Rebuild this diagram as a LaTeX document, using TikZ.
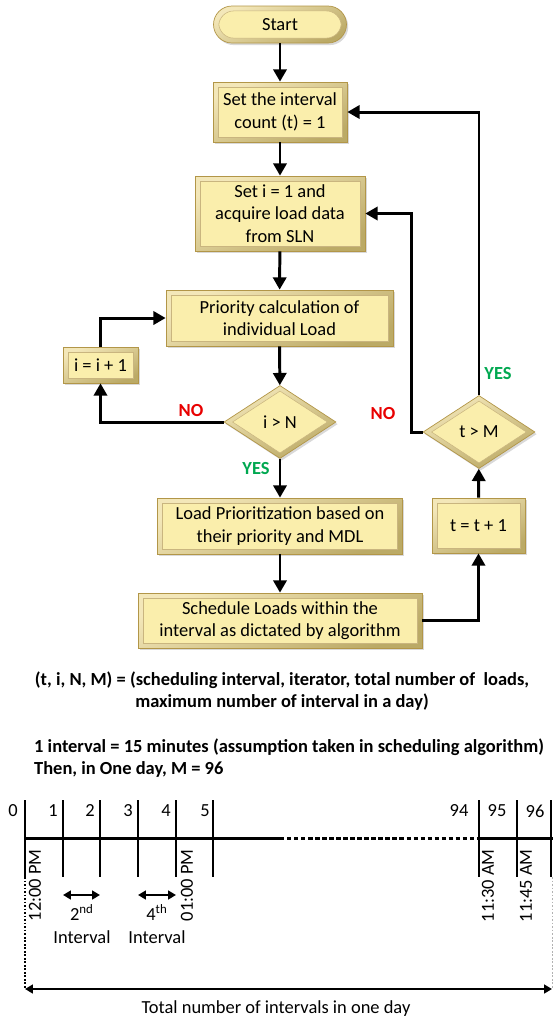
\documentclass[tikz,border=0pt]{standalone}
\usepackage{fontspec}
\setmainfont{Carlito}
\usetikzlibrary{arrows.meta,calc,shapes.geometric,shadows}
\definecolor{boxface}{RGB}{250,238,172}
\definecolor{boxrim}{RGB}{234,212,128}
\definecolor{boxline}{RGB}{178,150,72}
\definecolor{noRed}{RGB}{232,0,0}
\definecolor{yesGreen}{RGB}{0,168,80}
\def\txt{\fontsize{10.5pt}{12.8pt}\selectfont}
\tikzset{
	bevel/.style={top color=boxrim!55!white, bottom color=boxrim!80!black, shading angle=25,
		draw=boxline, line width=0.4pt,
		drop shadow={opacity=0.3, shadow xshift=1pt, shadow yshift=-1.2pt}},
	proc/.style={bevel, rectangle, align=center, inner sep=0pt, font=\txt,
		path picture={\draw[fill=boxface, draw=boxline!70, line width=0.3pt]
			([shift={(2.8pt,2.8pt)}]path picture bounding box.south west) rectangle
			([shift={(-2.8pt,-2.8pt)}]path picture bounding box.north east);}},
	term/.style={bevel, rectangle, rounded corners=0.37cm, inner sep=0pt, font=\txt,
		minimum width=2.66cm, minimum height=0.74cm,
		path picture={\draw[fill=boxface, draw=boxline!70, line width=0.3pt, rounded corners=0.3cm]
			([shift={(3pt,2.8pt)}]path picture bounding box.south west) rectangle
			([shift={(-3pt,-2.8pt)}]path picture bounding box.north east);}},
	dec/.style={bevel, diamond, inner sep=0pt, font=\txt,
		minimum width=2.24cm, minimum height=1.46cm,
		path picture={\draw[fill=boxface, draw=boxline!70, line width=0.3pt]
			($(path picture bounding box.west)+(4.8pt,0)$) --
			($(path picture bounding box.north)+(0,-3.1pt)$) --
			($(path picture bounding box.east)+(-4.8pt,0)$) --
			($(path picture bounding box.south)+(0,3.1pt)$) -- cycle;}},
	flow/.style={line width=1.7pt, -{Triangle[length=7pt,width=7.5pt]}},
	tarr/.style={line width=1.2pt, {Triangle[length=4.5pt,width=5pt]}-{Triangle[length=4.5pt,width=5pt]}},
	nolbl/.style={text=noRed, font=\txt\bfseries},
	yeslbl/.style={text=yesGreen, font=\txt\bfseries},
	tline/.style={line width=1.7pt}
}

\begin{document}
\begin{tikzpicture}[x=0.02cm, y=-0.02cm]
	\useasboundingbox (0,0) rectangle (553,1019);
	%%%%% FLOW CHART %%%%%
	
	\node[term] (start) at (280,24.5) {Start};
	\node[proc, minimum width=2.68cm, minimum height=1.2cm] (setT) at (280,112) {Set the interval\\count (t) = 1};
	\node[proc, minimum width=3.4cm, minimum height=1.5cm] (setI) at (280,213.5) {Set i = 1 and\\acquire load data\\from SLN};
	\node[proc, minimum width=4.54cm, minimum height=1.12cm] (prio) at (279.5,318) {Priority calculation of\\individual Load};
	\node[proc, minimum width=1.5cm, minimum height=0.72cm] (incI) at (100.5,365) {i = i + 1};
	\node[dec] (iN) at (280,422) {i > N};
	\node[proc, minimum width=4.9cm, minimum height=1.12cm] (loadP) at (280,526) {Load Prioritization based on\\their priority and MDL};
	\node[proc, minimum width=5.68cm, minimum height=1.1cm] (sched) at (280,620.5) {Schedule Loads within the\\interval as dictated by algorithm};
	\node[proc, minimum width=1.86cm, minimum height=1.1cm] (incT) at (478.5,525.5) {t = t + 1};
	\node[dec] (tM) at (479,432) {t > M};
	
	\draw[flow] (start) -- (setT);
	\draw[flow] (setT) -- (setI);
	\draw[flow] (setI) -- (prio);
	\draw[flow] (prio) -- (iN);
	\draw[flow] (iN) -- (loadP);
	\draw[flow] (loadP) -- (sched);
	\draw[flow] (iN.west) -| (incI.south);
	\draw[flow] (incI.north) |- (prio.west);
	\draw[flow] (sched.east) -| (incT.south);
	\draw[flow] (incT) -- (tM);
	\draw[flow] (tM.north) |- (setT.east);
	\draw[flow] (tM.west) -- ++(-11,0) |- (setI.east);
	
	\node[nolbl] (noI) at (191,411) {NO};
	\node[yeslbl] (yesI) at (256,469) {YES};
	\node[nolbl] (noT) at (383,414) {NO};
	\node[yeslbl] (yesT) at (498,374) {YES};
	
	%%%%% NOTES %%%%%
	\node[font=\txt\bfseries, align=center] (vars) at (282,691) {(t, i, N, M) = (scheduling interval, iterator, total number of\ \ loads,\\maximum number of interval in a day)};
	\node[font=\txt\bfseries, align=left, anchor=west] (note) at (28,758) {1 interval = 15 minutes (assumption taken in scheduling algorithm)\\Then, in One day, M = 96};
	
	%%%%% TIME LINE %%%%%
	\draw[tline] (25,838) -- (280,838);
	\draw[tline, dash pattern=on 2.5pt off 1.5pt] (280,838) -- (479,838);
	\draw[tline] (479,838) -- (553,838);
	\foreach \x/\lx/\n in {25/13/0, 63/53/1, 100/90/2, 138/128/3, 176/166/4, 213/205/5, 479/459/94, 517/497/95, 551/535/96}{
		\coordinate (k\n) at (\x,838);
		\draw[tline] (\x,800) -- (\x,877);
		\node[font=\txt] (lbl\n) at (\lx,811) {\n};
	}
	
	\node[font=\txt, rotate=90, anchor=east, inner sep=0pt] (t0) at (35,849) {12:00 PM};
	\node[font=\txt, rotate=90, anchor=east, inner sep=0pt] (t4) at (187,849) {01:00 PM};
	\node[font=\txt, rotate=90, anchor=east, inner sep=0pt] (t94) at (488,849) {11:30 AM};
	\node[font=\txt, rotate=90, anchor=east, inner sep=0pt] (t95) at (526,849) {11:45 AM};
	
	\draw[tarr] ($(k1)+(0,57)$) -- ($(k2)+(0,57)$);
	\draw[tarr] ($(k3)+(0,57)$) -- ($(k4)+(0,57)$);
	\node[font=\txt, align=center] (int2) at (82,924) {2\textsuperscript{nd}\\Interval};
	\node[font=\txt, align=center] (int4) at (157,924) {4\textsuperscript{th}\\Interval};
	
	\coordinate (dayL) at (25,989);
	\coordinate (dayR) at (552,989);
	\draw[line width=1pt, dash pattern=on 1pt off 1pt] (25,877) -- (dayL);
	\draw[line width=0.4pt, black!30, dash pattern=on 1pt off 1pt] (552,877) -- (dayR);
	\draw[tarr] (dayL) -- (dayR);
	\node[font=\txt] (total) at (276,1009) {Total number of intervals in one day};
	
	%%%%% END %%%%%
\end{tikzpicture}
\end{document}
